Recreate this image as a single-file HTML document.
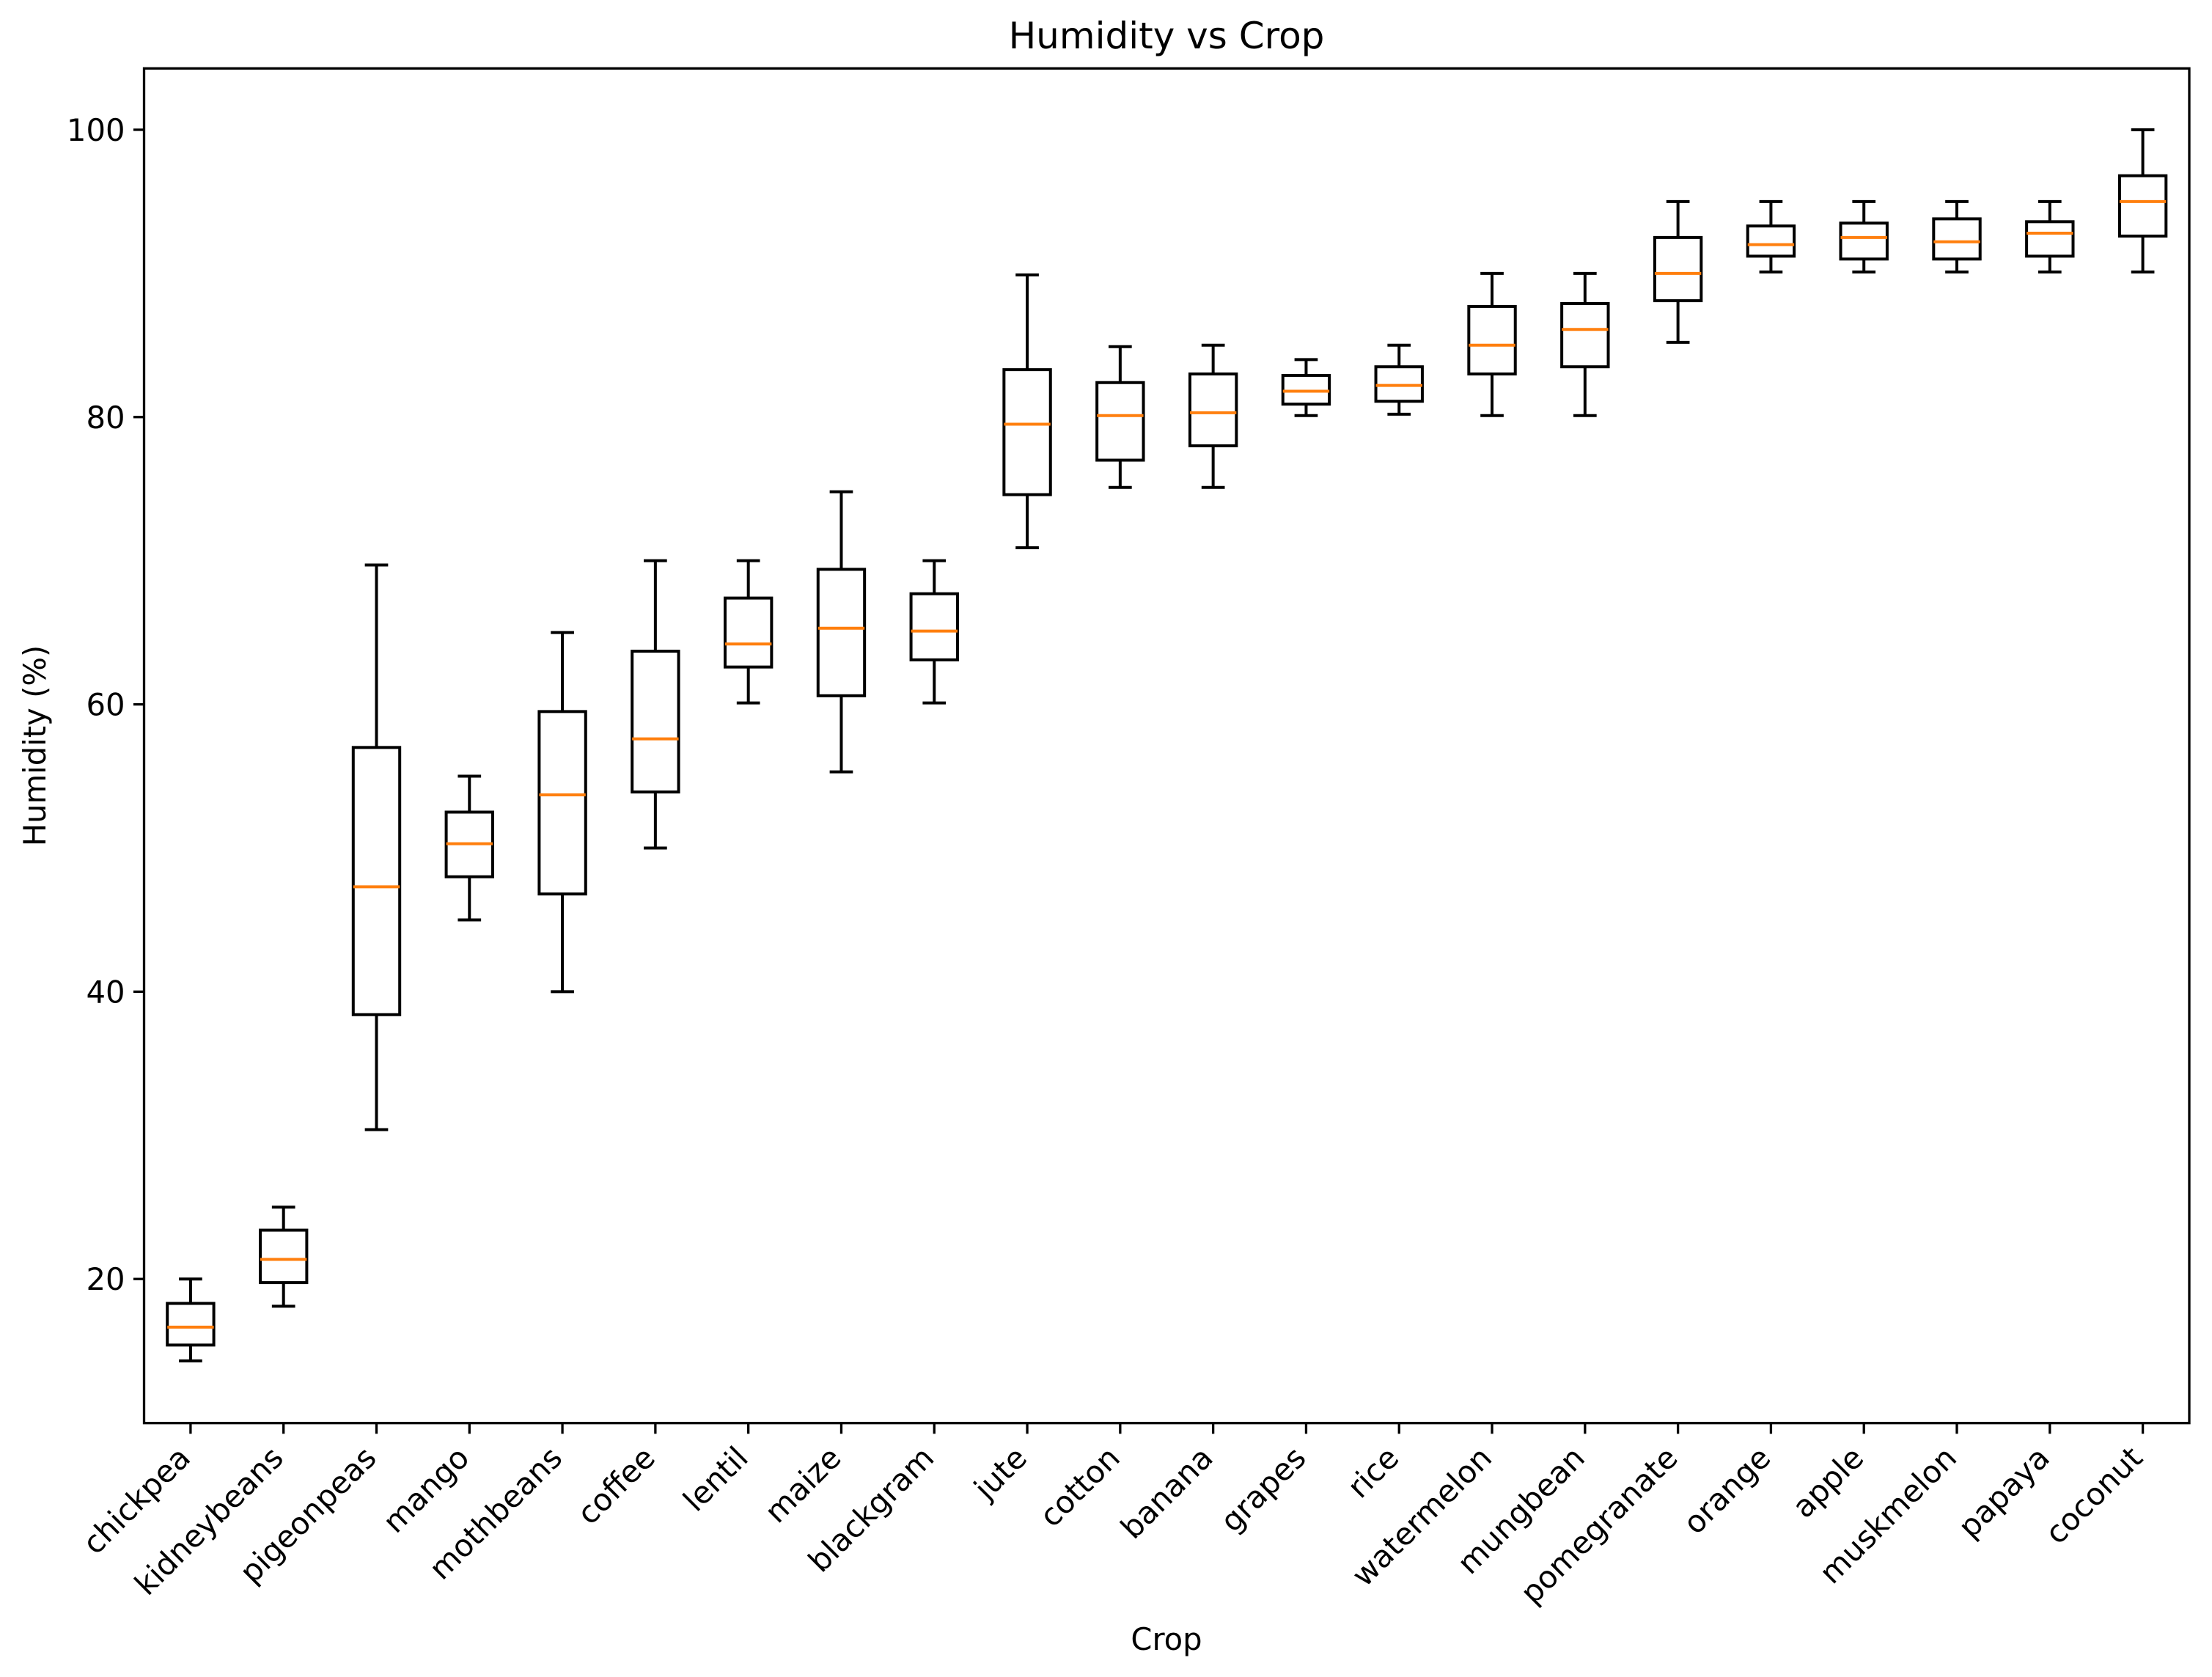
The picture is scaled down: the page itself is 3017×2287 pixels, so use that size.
<!DOCTYPE html>
<html><head><meta charset="utf-8"><style>
html,body{margin:0;padding:0;background:#fff;}
svg{display:block;font-family:"DejaVu Sans","Liberation Sans",sans-serif;}
</style></head><body>
<svg id="chart" width="3017" height="2287" viewBox="0 0 3017 2287" xmlns="http://www.w3.org/2000/svg">
<rect width="3017" height="2287" fill="#fff"/>
<g id="plot"></g>
<text x="1591" y="66" font-size="50" text-anchor="middle">Humidity vs Crop</text>
<text x="1591" y="2250" font-size="41.7" text-anchor="middle">Crop</text>
<text transform="translate(62,1017) rotate(-90)" font-size="41.7" text-anchor="middle">Humidity (%)</text>
</svg>
<script>
const crops = ["chickpea","kidneybeans","pigeonpeas","mango","mothbeans","coffee","lentil","maize","blackgram","jute","cotton","banana","grapes","rice","watermelon","mungbean","pomegranate","orange","apple","muskmelon","papaya","coconut"];
const whiskerLow = [14.3,18.1,30.4,45.0,40.0,50.0,60.1,55.3,60.1,70.9,75.1,75.1,80.1,80.2,80.1,80.1,85.2,90.1,90.1,90.1,90.1,90.1];
const q1 = [15.4,19.75,38.4,48.0,46.8,53.9,62.6,60.6,63.1,74.6,77.0,78.0,80.9,81.1,83.0,83.5,88.1,91.2,91.0,91.0,91.2,92.6];
const medians = [16.65,21.36,47.3,50.3,53.7,57.6,64.2,65.3,65.1,79.5,80.1,80.3,81.8,82.2,85.0,86.1,90.0,92.0,92.5,92.2,92.8,95.0];
const q3 = [18.3,23.4,57.0,52.5,59.5,63.7,67.4,69.4,67.7,83.3,82.4,83.0,82.9,83.5,87.7,87.9,92.5,93.3,93.5,93.8,93.6,96.8];
const whiskerHigh = [20.0,25.0,69.7,55.0,65.0,70.0,70.0,74.8,70.0,89.9,84.9,85.0,84.0,85.0,90.0,90.0,95.0,95.0,95.0,95.0,95.0,100.0];
const yTicks = [20,40,60,80,100];

const L=196.5,R=2986,T=93.3,B=1940.7,yMin=9.97,yMax=104.27;
const xS=i=>L+(i+1-0.5)/crops.length*(R-L);
const yS=v=>B-(v-yMin)/(yMax-yMin)*(B-T);
const unit=(R-L)/crops.length;
const NS="http://www.w3.org/2000/svg";
const g=document.getElementById('plot');
function mk(tag,attrs,parent){const e=document.createElementNS(NS,tag);for(const k in attrs)e.setAttribute(k,attrs[k]);(parent||g).appendChild(e);return e;}
const lw=4;
crops.forEach((c,i)=>{
  const x=xS(i),bw=unit*0.5,cw=unit*0.25;
  const grp=mk('g',{});
  
  
  mk('line',{x1:x,x2:x,y1:yS(whiskerLow[i]),y2:yS(q1[i]),stroke:'#000','stroke-width':lw},grp);
  mk('line',{x1:x,x2:x,y1:yS(q3[i]),y2:yS(whiskerHigh[i]),stroke:'#000','stroke-width':lw},grp);
  mk('line',{x1:x-cw/2,x2:x+cw/2,y1:yS(whiskerLow[i]),y2:yS(whiskerLow[i]),stroke:'#000','stroke-width':lw},grp);
  mk('line',{x1:x-cw/2,x2:x+cw/2,y1:yS(whiskerHigh[i]),y2:yS(whiskerHigh[i]),stroke:'#000','stroke-width':lw},grp);
  mk('rect',{x:x-bw/2,y:yS(q3[i]),width:bw,height:yS(q1[i])-yS(q3[i]),fill:'none',stroke:'#000','stroke-width':lw},grp);
  mk('line',{x1:x-bw/2,x2:x+bw/2,y1:yS(medians[i]),y2:yS(medians[i]),stroke:'#ff7f0e','stroke-width':lw},grp);
  mk('line',{x1:x,x2:x,y1:B,y2:B+14.6,stroke:'#000','stroke-width':3.3});
  const t=mk('text',{transform:`translate(${x+2},${B+50}) rotate(-45)`,'font-size':41.7,'text-anchor':'end'});
  
  
  t.textContent=c;
});
yTicks.forEach(v=>{
  const y=yS(v);
  mk('line',{x1:L-14.6,x2:L,y1:y,y2:y,stroke:'#000','stroke-width':3.3});
  const t=mk('text',{x:L-26,y:y+15,'font-size':41.7,'text-anchor':'end'});
  
  
  t.textContent=v;
});
const f=mk('rect',{x:L,y:T,width:R-L,height:B-T,fill:'none',stroke:'#000','stroke-width':3.3});


</script>
</body></html>
